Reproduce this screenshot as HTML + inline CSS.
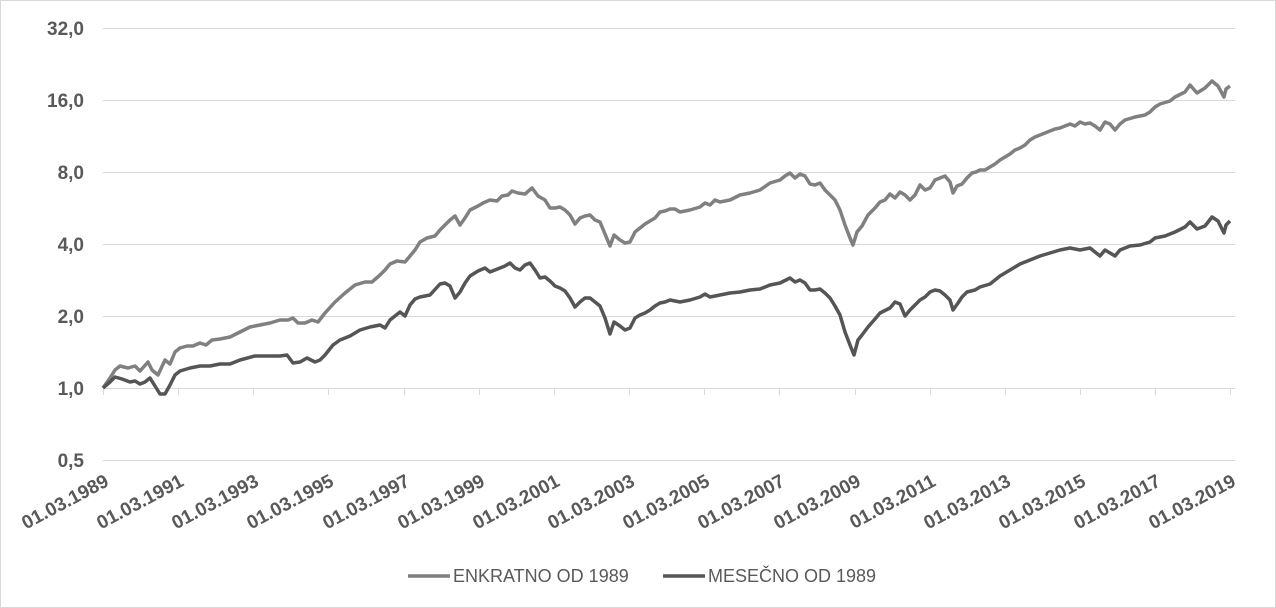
<!DOCTYPE html>
<html><head><meta charset="utf-8"><style>
body{margin:0;background:#fff}
svg{display:block}
text{font-family:"Liberation Sans",Arial,sans-serif;fill:#595959}
</style></head><body>
<svg width="1276" height="608" viewBox="0 0 1276 608" xmlns="http://www.w3.org/2000/svg">
<rect x="0.5" y="0.5" width="1275" height="607" fill="#fff" stroke="#d9d9d9"/>
<g stroke="#d9d9d9" stroke-width="1">
<line x1="103" y1="28.5" x2="1235" y2="28.5"/>
<line x1="103" y1="100.5" x2="1235" y2="100.5"/>
<line x1="103" y1="172.5" x2="1235" y2="172.5"/>
<line x1="103" y1="244.5" x2="1235" y2="244.5"/>
<line x1="103" y1="316.5" x2="1235" y2="316.5"/>
<line x1="103" y1="388.5" x2="1235" y2="388.5"/>
<line x1="103" y1="460.5" x2="1235" y2="460.5"/>
<line x1="103.5" y1="388" x2="103.5" y2="395"/><line x1="178.5" y1="388" x2="178.5" y2="395"/><line x1="253.5" y1="388" x2="253.5" y2="395"/><line x1="328.5" y1="388" x2="328.5" y2="395"/><line x1="404.5" y1="388" x2="404.5" y2="395"/><line x1="479.5" y1="388" x2="479.5" y2="395"/><line x1="554.5" y1="388" x2="554.5" y2="395"/><line x1="629.5" y1="388" x2="629.5" y2="395"/><line x1="704.5" y1="388" x2="704.5" y2="395"/><line x1="779.5" y1="388" x2="779.5" y2="395"/><line x1="855.5" y1="388" x2="855.5" y2="395"/><line x1="930.5" y1="388" x2="930.5" y2="395"/><line x1="1005.5" y1="388" x2="1005.5" y2="395"/><line x1="1080.5" y1="388" x2="1080.5" y2="395"/><line x1="1155.5" y1="388" x2="1155.5" y2="395"/><line x1="1230.5" y1="388" x2="1230.5" y2="395"/>
</g>
<g font-size="19" font-weight="bold" text-anchor="end">
<text x="84" y="35">32,0</text><text x="84" y="107">16,0</text><text x="84" y="179">8,0</text><text x="84" y="251">4,0</text><text x="84" y="323">2,0</text><text x="84" y="395">1,0</text><text x="84" y="467">0,5</text>
</g>
<g font-size="19" font-weight="bold" text-anchor="end">
<text transform="translate(110,485) rotate(-28)">01.03.1989</text>
<text transform="translate(185,485) rotate(-28)">01.03.1991</text>
<text transform="translate(260,485) rotate(-28)">01.03.1993</text>
<text transform="translate(335,485) rotate(-28)">01.03.1995</text>
<text transform="translate(411,485) rotate(-28)">01.03.1997</text>
<text transform="translate(486,485) rotate(-28)">01.03.1999</text>
<text transform="translate(561,485) rotate(-28)">01.03.2001</text>
<text transform="translate(636,485) rotate(-28)">01.03.2003</text>
<text transform="translate(711,485) rotate(-28)">01.03.2005</text>
<text transform="translate(786,485) rotate(-28)">01.03.2007</text>
<text transform="translate(862,485) rotate(-28)">01.03.2009</text>
<text transform="translate(937,485) rotate(-28)">01.03.2011</text>
<text transform="translate(1012,485) rotate(-28)">01.03.2013</text>
<text transform="translate(1087,485) rotate(-28)">01.03.2015</text>
<text transform="translate(1162,485) rotate(-28)">01.03.2017</text>
<text transform="translate(1237,485) rotate(-28)">01.03.2019</text>
</g>
<polyline fill="none" stroke="#808080" stroke-width="3.5" stroke-linejoin="round" points="103,388 110,378 115,370 120,366 128,368 135,366 140,371 148,362 152,370 158,375 165,360 170,364 175,352 180,348 187,346 193,346 200,343 206,345 212,340 220,339 230,337 240,332 250,327 260,325 270,323 280,320 288,320 293,318 298,323 305,323 312,320 318,322 325,313 335,302 345,293 355,285 365,282 372,282 380,275 385,270 390,264 397,261 405,262 410,256 415,250 420,242 427,238 435,236 440,230 445,225 450,220 455,216 460,225 465,218 470,210 478,206 483,203 490,200 497,201 502,196 508,195 512,191 518,193 525,194 532,188 538,196 545,200 550,208 555,208 560,207 565,210 570,215 575,224 580,218 585,216 590,215 595,220 600,222 605,234 610,246 614,235 620,240 625,243 630,242 635,232 640,228 645,224 650,221 655,218 660,212 665,211 670,209 675,209 680,212 690,210 700,207 705,203 710,205 715,200 720,202 730,200 740,195 750,193 760,190 770,183 780,180 785,176 790,173 795,178 800,174 805,176 810,184 815,185 820,183 825,190 830,195 835,200 840,210 845,225 850,238 853,245 857,232 862,226 868,215 875,208 880,202 885,200 890,194 895,198 900,192 905,195 910,200 915,195 920,185 925,190 930,188 935,180 940,178 945,176 950,182 953,193 957,186 962,184 967,178 972,173 976,172 980,170 985,170 990,167 995,164 1000,160 1005,157 1010,154 1015,150 1020,148 1025,145 1030,140 1035,137 1040,135 1045,133 1050,131 1055,129 1060,128 1065,126 1070,124 1075,126 1080,122 1085,124 1090,123 1095,126 1100,130 1105,122 1110,124 1115,130 1120,124 1125,120 1135,117 1145,115 1150,112 1155,107 1160,104 1170,101 1175,97 1185,92 1190,85 1197,93 1205,88 1212,81 1218,86 1224,97 1226,89 1230,86"/>
<polyline fill="none" stroke="#555555" stroke-width="3.5" stroke-linejoin="round" points="103,388 110,382 115,377 122,379 130,382 135,381 140,384 145,382 150,378 155,386 160,394 165,394 170,385 175,375 180,371 190,368 200,366 210,366 220,364 230,364 240,360 255,356 270,356 280,356 287,355 293,363 300,362 307,358 315,362 320,360 325,355 333,345 340,340 350,336 360,330 370,327 380,325 385,328 390,320 400,312 405,316 410,305 415,299 420,297 430,295 440,284 445,283 450,286 455,298 460,292 465,283 470,276 478,271 485,268 490,272 495,270 500,268 505,266 510,263 515,268 520,270 525,265 530,263 535,270 540,278 545,277 550,281 555,286 560,288 565,291 570,298 575,307 580,302 585,298 590,298 595,302 600,306 605,318 610,334 614,322 620,326 625,330 630,328 635,318 640,315 645,313 650,310 655,306 660,303 665,302 670,300 680,302 690,300 700,297 705,294 710,297 720,295 730,293 740,292 750,290 760,289 770,285 780,283 790,278 795,282 800,280 805,283 810,290 815,290 820,289 825,293 830,298 835,306 840,315 845,332 850,345 854,355 858,340 862,335 868,327 875,319 880,313 890,308 895,302 900,304 905,316 910,310 915,305 920,300 925,297 930,292 935,290 940,291 945,295 950,300 953,310 958,303 962,297 967,292 975,290 980,287 990,284 1000,276 1010,270 1020,264 1030,260 1040,256 1050,253 1060,250 1070,248 1080,250 1090,248 1100,256 1105,250 1115,256 1120,250 1130,246 1140,245 1150,242 1155,238 1165,236 1175,232 1185,227 1190,222 1197,229 1205,226 1212,217 1218,221 1224,233 1226,225 1230,221"/>
<line x1="408" y1="576" x2="450" y2="576" stroke="#808080" stroke-width="3.5"/>
<text x="453" y="582" font-size="18">ENKRATNO OD 1989</text>
<line x1="663" y1="576" x2="705" y2="576" stroke="#555555" stroke-width="3.5"/>
<text x="708" y="582" font-size="18">MESEČNO OD 1989</text>
</svg>
</body></html>
